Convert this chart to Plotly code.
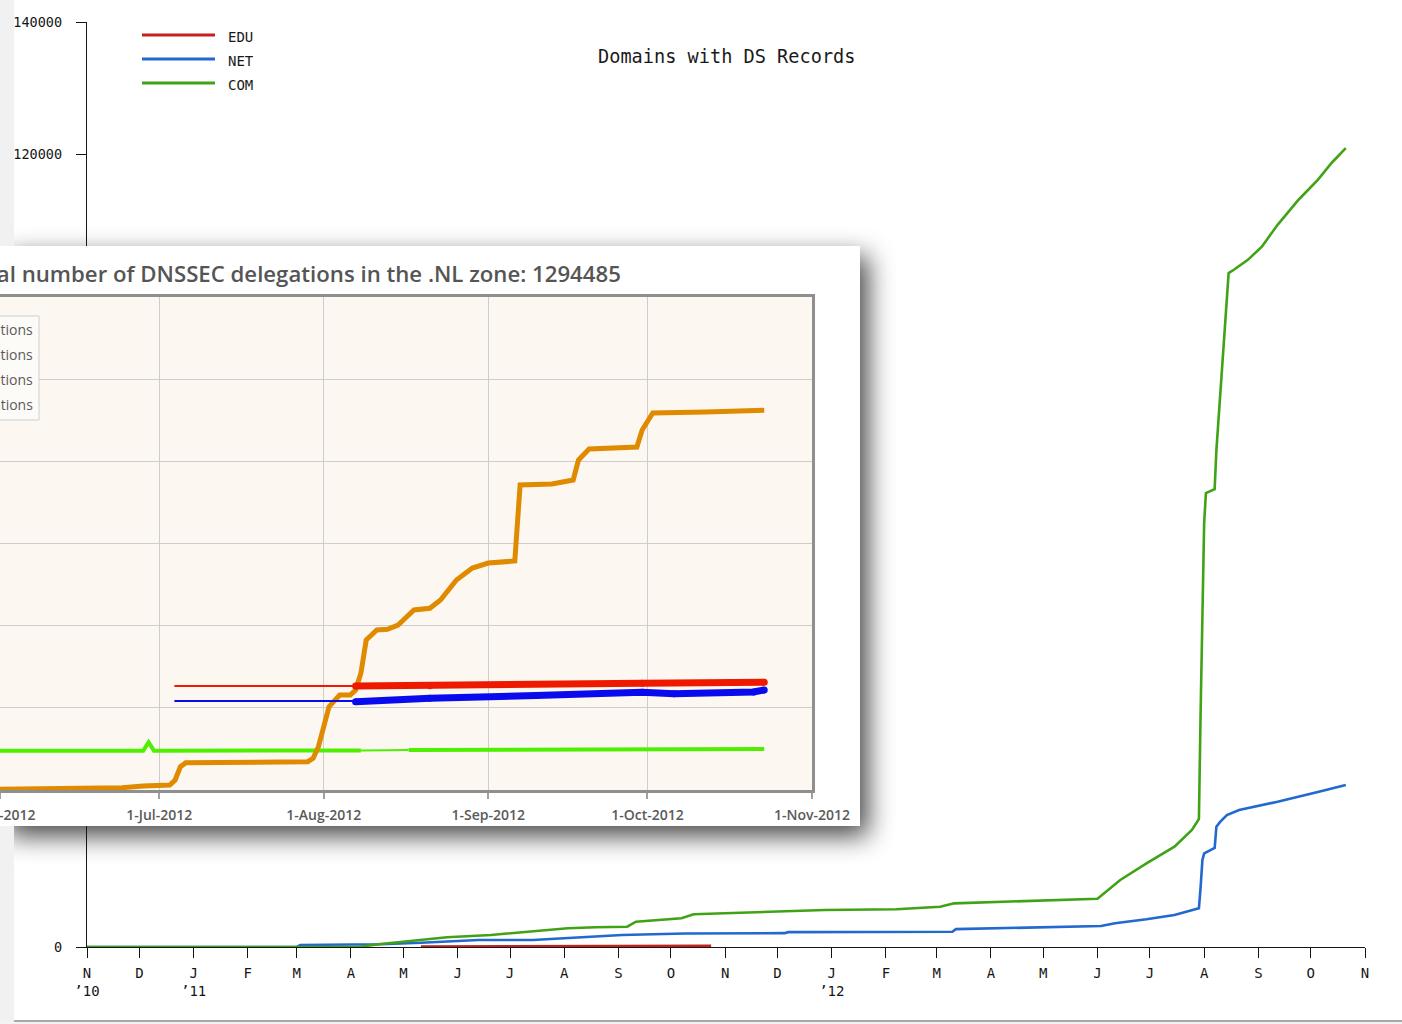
import base64
import pandas as pd
import plotly.graph_objects as go

FIG_W, FIG_H = 1402, 1024

# ---------------------------------------------------------------------------
# Background chart: domains with DS records (Nov 2010 - Nov 2012)
# ---------------------------------------------------------------------------
com_dates = [
    "2010-11-01", "2011-04-05", "2011-04-18", "2011-05-11", "2011-05-26", "2011-06-20",
    "2011-07-16", "2011-08-03", "2011-08-19", "2011-09-06", "2011-09-11", "2011-10-07",
    "2011-10-14", "2011-11-27", "2011-12-28", "2012-02-07", "2012-03-03", "2012-03-11",
    "2012-04-08", "2012-05-09", "2012-06-01", "2012-06-14", "2012-06-29", "2012-07-15",
    "2012-07-25", "2012-07-28", "2012-07-29", "2012-07-30", "2012-07-31", "2012-08-01",
    "2012-08-02", "2012-08-07", "2012-08-08", "2012-08-15", "2012-08-18", "2012-08-26",
    "2012-09-03", "2012-09-12", "2012-09-24", "2012-10-05", "2012-10-13", "2012-10-21",
]
com_values = [
    0, 0, 450, 1060, 1470, 1820,
    2420, 2830, 2980, 3070, 3830, 4340,
    4950, 5340, 5600, 5710, 6100, 6610,
    6860, 7110, 7310, 10140, 12670, 15180,
    17710, 18960, 19400, 35900, 52500, 64200,
    68700, 69300, 75200, 102000, 102500, 104000,
    106000, 109300, 113100, 116100, 118700, 120900,
]

net_dates = [
    "2010-11-01", "2011-03-01", "2011-03-03", "2011-04-18", "2011-05-11", "2011-06-13",
    "2011-07-14", "2011-08-08", "2011-09-03", "2011-10-09", "2011-12-05", "2011-12-07",
    "2012-03-10", "2012-03-12", "2012-04-08", "2012-05-21", "2012-06-03", "2012-06-11",
    "2012-06-29", "2012-07-15", "2012-07-29", "2012-07-30", "2012-07-31", "2012-08-01",
    "2012-08-07", "2012-08-08", "2012-08-10", "2012-08-14", "2012-08-21", "2012-09-12",
    "2012-09-24", "2012-10-05", "2012-10-21",
]
net_values = [
    0, 0, 300, 410, 650, 1060,
    1060, 1470, 1820, 2050, 2100, 2250,
    2300, 2700, 2830, 3070, 3180, 3590,
    4190, 4840, 5860, 9130, 13170, 14180,
    14980, 18210, 18900, 19980, 20740, 21990,
    22700, 23460, 24520,
]

edu_dates = ["2011-05-11", "2011-07-01", "2011-09-01", "2011-10-24"]
edu_values = [60, 100, 140, 180]

main_title = "Domains with DS Records"
main_series = ["EDU", "NET", "COM"]
main_colors = {"EDU": "#c3211e", "NET": "#2168cf", "COM": "#40a316"}
main_y_ticks = [0, 20000, 40000, 60000, 80000, 100000, 120000, 140000]
# the middle labels sit under the inset card, so only the outer ones are written
main_y_ticktext = ["0", "", "", "", "", "", "120000", "140000"]
month_letters = ["N", "D", "J", "F", "M", "A", "M", "J", "J", "A", "S", "O",
                 "N", "D", "J", "F", "M", "A", "M", "J", "J", "A", "S", "O", "N"]
year_marks = {0: "’10", 2: "’11", 14: "’12"}

# ---------------------------------------------------------------------------
# Inset chart: DNSSEC delegations in the .NL zone (Jun - Nov 2012)
# ---------------------------------------------------------------------------
nl_total = 1294485
nl_title = f"Total number of DNSSEC delegations in the .NL zone: {nl_total}"
nl_labels = ["Total DNSSEC delegations", "RSA/SHA-256 delegations",
             "RSA/SHA-1 delegations", "NSEC3 delegations"]

orange_dates = [
    "2012-06-01", "2012-06-24", "2012-06-28", "2012-07-03", "2012-07-04", "2012-07-05",
    "2012-07-06", "2012-07-15", "2012-07-29", "2012-07-30", "2012-07-31", "2012-08-02",
    "2012-08-04", "2012-08-06", "2012-08-07", "2012-08-08", "2012-08-09", "2012-08-10",
    "2012-08-11", "2012-08-13", "2012-08-15", "2012-08-16", "2012-08-18", "2012-08-21",
    "2012-08-23", "2012-08-26", "2012-08-29", "2012-09-01", "2012-09-06", "2012-09-07",
    "2012-09-13", "2012-09-17", "2012-09-18", "2012-09-20", "2012-09-29", "2012-09-30",
    "2012-10-02", "2012-10-12", "2012-10-23",
]
orange_values = [
    2400, 7800, 13600, 17000, 34000, 79400,
    93000, 93000, 96400, 108000, 147500, 283900,
    323700, 323700, 340700, 397700, 511100, 528200,
    545200, 547600, 562300, 579300, 613400, 619200,
    647400, 715600, 756500, 773500, 780300, 1039300,
    1042700, 1056400, 1124500, 1162000, 1168800, 1226700,
    1284700, 1288100, nl_total,
]

red_early_dates = ["2012-07-04", "2012-08-07"]
red_early_values = [354400, 354400]
red_daily_dates = ["2012-08-07", "2012-08-21", "2012-09-30", "2012-10-23"]
red_daily_values = [354400, 355400, 363600, 367000]

blue_early_dates = ["2012-07-04", "2012-08-07"]
blue_early_values = [303300, 303300]
blue_daily_dates = ["2012-08-07", "2012-08-21", "2012-09-10", "2012-09-30",
                    "2012-10-06", "2012-10-21", "2012-10-23"]
blue_daily_values = [301000, 312900, 322000, 332900, 328000, 334000, 340800]

green_daily1_dates = ["2012-06-01", "2012-06-28", "2012-06-29", "2012-06-30", "2012-08-08"]
green_daily1_values = [134000, 134000, 163000, 134000, 135000]
green_gap_dates = ["2012-08-08", "2012-08-17"]
green_gap_values = [135000, 136000]
green_daily2_dates = ["2012-08-17", "2012-09-15", "2012-10-01", "2012-10-23"]
green_daily2_values = [136000, 137500, 138500, 139500]

nl_colors = {"orange": "#df8a00", "red": "#ee1a00", "blue": "#0a0aee", "green": "#4ef000"}


def px_x(px):
    return px / FIG_W


def px_y(py):
    return 1 - py / FIG_H


MONO = "DejaVu Sans Mono"
SANS = "Open Sans"

fig = go.Figure()

# --- background chart lines ---
fig.add_trace(go.Scatter(x=edu_dates, y=edu_values, mode="lines", name="EDU",
                         line=dict(color=main_colors["EDU"], width=2.6), xaxis="x", yaxis="y"))
fig.add_trace(go.Scatter(x=net_dates, y=net_values, mode="lines", name="NET",
                         line=dict(color=main_colors["NET"], width=2.6), xaxis="x", yaxis="y"))
fig.add_trace(go.Scatter(x=com_dates, y=com_values, mode="lines", name="COM",
                         line=dict(color=main_colors["COM"], width=2.6), xaxis="x", yaxis="y"))

# --- inset card: white panel plus cream plotting area ---
px0, px1, py0, py1 = 0, 860, 246, 826          # card edges
cx1, cy0, cy1 = 812, 297, 790                   # cream area edges
card_w, card_h = px1 - px0, py1 - py0
cream_x1 = (cx1 - px0) / card_w
cream_y0 = (py1 - cy1) / card_h
cream_y1 = (py1 - cy0) / card_h
fig.add_trace(go.Scatter(x=[-0.1, 1, 1, -0.1, -0.1], y=[0, 0, 1, 1, 0], mode="lines",
                         fill="toself", fillcolor="#ffffff", line=dict(width=0),
                         xaxis="x2", yaxis="y2", hoverinfo="skip"))
fig.add_trace(go.Scatter(x=[-0.1, cream_x1, cream_x1, -0.1, -0.1],
                         y=[cream_y0, cream_y0, cream_y1, cream_y1, cream_y0], mode="lines",
                         fill="toself", fillcolor="#fcf8f1", line=dict(width=0),
                         xaxis="x2", yaxis="y2", hoverinfo="skip"))

# --- inset chart lines ---
def inset_line(xs, ys, color, width, markers=False):
    fig.add_trace(go.Scatter(
        x=xs, y=ys, mode="lines+markers" if markers else "lines",
        line=dict(color=color, width=width),
        marker=dict(color=color, size=width),
        xaxis="x3", yaxis="y3", hoverinfo="skip"))

inset_line(green_daily1_dates, green_daily1_values, nl_colors["green"], 4)
inset_line(green_gap_dates, green_gap_values, nl_colors["green"], 2)
inset_line(green_daily2_dates, green_daily2_values, nl_colors["green"], 4)
inset_line(orange_dates, orange_values, nl_colors["orange"], 5)
inset_line(blue_early_dates, blue_early_values, nl_colors["blue"], 2, markers=True)
inset_line(blue_daily_dates, blue_daily_values, nl_colors["blue"], 7, markers=True)
inset_line(red_early_dates, red_early_values, nl_colors["red"], 2, markers=True)
inset_line(red_daily_dates, red_daily_values, nl_colors["red"], 7, markers=True)

# --- axes ---
month_starts = pd.date_range("2010-11-01", "2012-11-01", freq="MS")
x_ticktext = [f"{m}<br>{year_marks[i]}" if i in year_marks else m
              for i, m in enumerate(month_letters)]

axis_black = "#151515"
fig.update_layout(
    template="none",
    xaxis=dict(
        domain=[px_x(87), px_x(1365)], anchor="y", type="date", automargin=False,
        range=["2010-11-01", "2012-11-01"],
        tickvals=list(month_starts), ticktext=x_ticktext,
        ticks="outside", ticklen=10, tickwidth=1.3, tickcolor=axis_black,
        showline=True, linecolor=axis_black, linewidth=1.3,
        showgrid=False, zeroline=False, ticklabelstandoff=3,
        tickfont=dict(family=MONO, size=14, color=axis_black),
    ),
    yaxis=dict(
        domain=[px_y(947), px_y(22)], anchor="x", automargin=False,
        range=[0, 140000], tickvals=main_y_ticks, ticktext=main_y_ticktext,
        ticks="outside", ticklen=10, tickwidth=1.3, tickcolor=axis_black,
        showline=True, linecolor=axis_black, linewidth=1.3,
        showgrid=False, zeroline=False, ticklabelstandoff=11,
        tickfont=dict(family=MONO, size=13.5, color=axis_black),
    ),
    xaxis2=dict(domain=[px_x(px0), px_x(px1)], anchor="y2", range=[0, 1],
                visible=False, automargin=False),
    yaxis2=dict(domain=[px_y(py1), px_y(py0)], anchor="x2", range=[0, 1],
                visible=False, automargin=False),
    xaxis3=dict(
        domain=[px_x(0), px_x(cx1)], anchor="y3", type="date", automargin=False,
        range=["2012-06-01", "2012-11-01"], tick0="2012-06-01", dtick="M1",
        tickformat="%-d-%b-%Y", ticklabeloverflow="allow",
        ticks="outside", ticklen=6, tickwidth=1.5, tickcolor="#a0a0a0",
        showline=True, mirror=True, linecolor="#8f8f8f", linewidth=3,
        showgrid=True, gridcolor="#cdcdcd", gridwidth=1.2, zeroline=False,
        ticklabelstandoff=4,
        tickfont=dict(family=SANS, size=14, color="#5a5a5a", weight=600),
    ),
    yaxis3=dict(
        domain=[px_y(cy1), px_y(cy0)], anchor="x3", side="right", automargin=False,
        range=[0, 1680000], dtick=280000, showticklabels=False, ticks="",
        showline=True, linecolor="#8f8f8f", linewidth=3,
        showgrid=True, gridcolor="#cdcdcd", gridwidth=1.2, zeroline=False,
    ),
)

# --- soft drop shadow behind the inset card (blurred SVG) ---
sh_left, sh_top, sh_w, sh_h = -60, 190, 1040, 780
shadow_svg = (
    f'<svg xmlns="http://www.w3.org/2000/svg" width="{sh_w}" height="{sh_h}" '
    f'viewBox="0 0 {sh_w} {sh_h}"><defs><filter id="b" x="-10%" y="-10%" '
    f'width="120%" height="120%"><feGaussianBlur stdDeviation="13"/></filter></defs>'
    f'<rect x="{px0 - sh_left + 8}" y="{py0 - sh_top + 10}" width="{card_w}" '
    f'height="{card_h}" fill="#000" fill-opacity="0.72" filter="url(#b)"/></svg>'
)
shadow_uri = "data:image/svg+xml;base64," + base64.b64encode(shadow_svg.encode()).decode()

fig.update_layout(images=[dict(
    source=shadow_uri, xref="paper", yref="paper",
    x=px_x(sh_left), y=px_y(sh_top), sizex=sh_w / FIG_W, sizey=sh_h / FIG_H,
    xanchor="left", yanchor="top", sizing="stretch", layer="below",
)])

shapes = [
    # page edge strip on the left and the bottom border of the chart card
    dict(type="rect", xref="paper", yref="paper", layer="below",
         x0=0, x1=px_x(14), y0=0, y1=1, fillcolor="#f1f1f1", line=dict(width=0)),
    dict(type="rect", xref="paper", yref="paper", layer="below",
         x0=0, x1=1, y0=0, y1=px_y(1021), fillcolor="#f3f3f3", line=dict(width=0)),
    dict(type="line", xref="paper", yref="paper", layer="below",
         x0=px_x(14), x1=1, y0=px_y(1021), y1=px_y(1021), line=dict(color="#a8a8a8", width=2)),
    # inset legend box
    dict(type="rect", xref="paper", yref="paper", layer="above",
         x0=px_x(-200), x1=px_x(39), y0=px_y(420), y1=px_y(316),
         fillcolor="#fdfbf7", line=dict(color="#cfcfcf", width=1)),
]

annotations = [
    dict(text=main_title, xref="paper", yref="paper", x=px_x(726), y=px_y(56),
         xanchor="center", yanchor="middle", showarrow=False,
         font=dict(family=MONO, size=18.6, color="#1a1a1a")),
    dict(text=nl_title, xref="paper", yref="paper", x=px_x(623), y=px_y(273),
         xanchor="right", yanchor="middle", showarrow=False,
         font=dict(family=SANS, size=22.2, color="#555555", weight=600)),
]

# background chart legend
for i, name in enumerate(main_series):
    ly = 35 + 24 * i
    shapes.append(dict(type="line", xref="paper", yref="paper", layer="above",
                       x0=px_x(142), x1=px_x(215), y0=px_y(ly), y1=px_y(ly),
                       line=dict(color=main_colors[name], width=3)))
    annotations.append(dict(text=name, xref="paper", yref="paper", x=px_x(226), y=px_y(ly + 2),
                            xanchor="left", yanchor="middle", showarrow=False,
                            font=dict(family=MONO, size=14, color="#1a1a1a")))

# inset legend entries
for i, label in enumerate(nl_labels):
    ly = 329 + 25.3 * i
    annotations.append(dict(text=label, xref="paper", yref="paper", x=px_x(35), y=px_y(ly),
                            xanchor="right", yanchor="middle", showarrow=False,
                            font=dict(family=SANS, size=14, color="#5a5a5a")))

fig.update_layout(
    width=FIG_W, height=FIG_H, autosize=False, margin=dict(l=0, r=0, t=0, b=0, pad=0),
    paper_bgcolor="#ffffff", plot_bgcolor="rgba(0,0,0,0)",
    showlegend=False, shapes=shapes, annotations=annotations,
)

fig.write_html("out.html", config={"displayModeBar": False})
